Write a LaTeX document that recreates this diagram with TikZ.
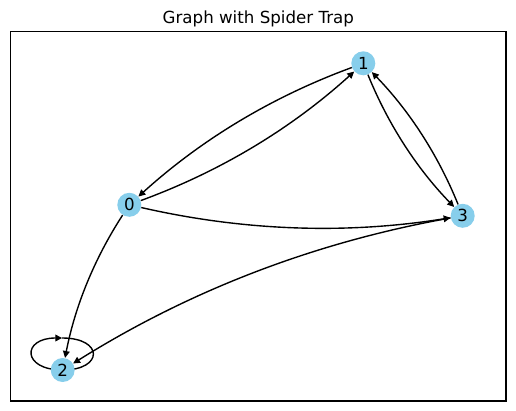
\documentclass[tikz,border=0pt]{standalone}
\usepackage{fontspec}
\setmainfont{DejaVu Sans}
\usetikzlibrary{arrows.meta}
\pgfdeclarelayer{bg}
\pgfsetlayers{bg,main}
\definecolor{skyblue}{HTML}{87CEEB}
\tikzset{
  vertex/.style={circle, fill=skyblue, draw=none, minimum size=24*0.72pt, inner sep=0pt, font=\fontsize{12}{14}\selectfont},
  edge/.style={line width=1pt, -{Triangle[length=5pt,width=4.8pt]}, bend right=11, looseness=0.87},
  loopedge/.style={line width=1pt, -{Triangle[length=5pt,width=4.8pt]}},
  framebox/.style={line width=0.8pt},
}
\begin{document}
\begin{tikzpicture}[x=0.72pt,y=-0.72pt]
\useasboundingbox (0,0) rectangle (516,411);
\draw[framebox] (10.5,31.5) rectangle (506,401);
\node[anchor=base, font=\fontsize{12}{14}\selectfont, inner sep=0pt] (title) at (258.3,23.3) {Graph with Spider Trap};
\node[vertex] (n0) at (129.3,204.8) {0};
\node[vertex] (n1) at (363.3,63.3) {1};
\node[vertex] (n2) at (62.7,370) {2};
\node[vertex] (n3) at (462.7,215.8) {3};
\begin{pgfonlayer}{bg}
\coordinate (lt) at ([shift={(-0.5,-32)}]n2.center);
\draw[loopedge] (lt) .. controls ([shift={(41,-32)}]n2.center) and ([shift={(41,0)}]n2.center) .. (n2.center)
  .. controls ([shift={(-41,0)}]n2.center) and ([shift={(-41,-32)}]n2.center) .. (lt);
\end{pgfonlayer}
\draw[edge] (n0) to (n1);
\draw[edge] (n1) to (n0);
\draw[edge] (n0) to (n3);
\draw[edge] (n0) to (n2);
\draw[edge] (n1) to (n3);
\draw[edge] (n3) to (n1);
\draw[edge] (n3) to (n2);
\end{tikzpicture}
\end{document}
